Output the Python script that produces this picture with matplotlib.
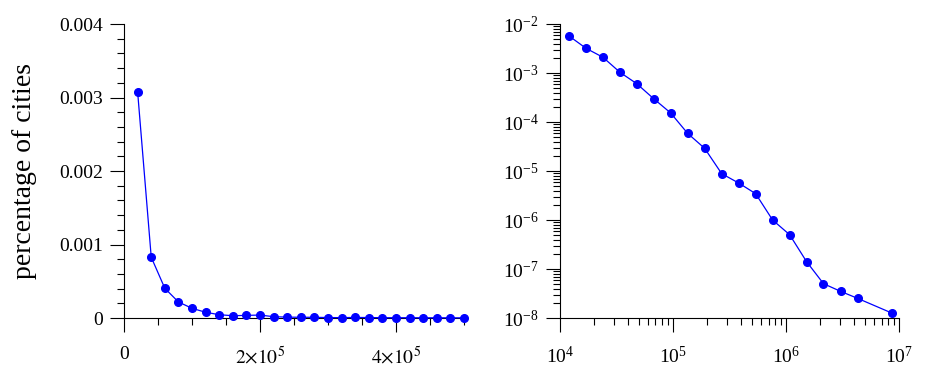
import numpy as np
import matplotlib
matplotlib.use('Agg')
import matplotlib.pyplot as plt
from matplotlib.ticker import FixedLocator, FixedFormatter, MultipleLocator, LogLocator, NullFormatter

plt.rcParams['font.family'] = ['Liberation Serif', 'DejaVu Serif']
plt.rcParams['mathtext.fontset'] = 'stix'

# linear histogram (left)
lin_size = [20000, 40000, 60000, 80000, 100000, 120000, 140000, 160000, 180000, 200000,
            220000, 240000, 260000, 280000, 300000, 320000, 340000, 360000, 380000, 400000,
            420000, 440000, 460000, 480000, 500000]
lin_frac = [0.003075, 0.000827, 0.000404, 0.000218, 0.000132, 0.000078, 0.000045, 0.000031,
            0.000036, 0.000040, 0.000018, 0.000012, 0.000010, 0.000010, 0.000006, 0.000005,
            0.000008, 0.000006, 0.000004, 0.000004, 0.000004, 0.000003, 0.000003, 0.000003,
            0.000002]

# log-binned histogram (right)
log_size = [12090, 17080, 24130, 34100, 47900, 67600, 95500, 134900, 190800, 269700,
            381000, 538000, 760000, 1074000, 1518000, 2140000, 3030000, 4280000, 8610000]
log_frac = [5.69e-3, 3.19e-3, 2.09e-3, 1.03e-3, 6.06e-4, 2.99e-4, 1.53e-4, 5.87e-5, 2.90e-5,
            8.83e-6, 5.69e-6, 3.45e-6, 1.0e-6, 5.02e-7, 1.41e-7, 5.02e-8, 3.50e-8, 2.52e-8,
            1.26e-8]

lin_yticks = [0, 0.001, 0.002, 0.003, 0.004]
lin_ylabels = ['0', '0.001', '0.002', '0.003', '0.004']
lin_xticks = [0, 2e5, 4e5]
lin_xlabels = ['0', r'$2{\times}10^{5}$', r'$4{\times}10^{5}$']

blue = '#0000ff'

fig = plt.figure(figsize=(9.27, 3.78), dpi=100)
ax1 = fig.add_axes([0.1338, 0.1587, 0.3668, 0.7778])
ax2 = fig.add_axes([0.6038, 0.1587, 0.3663, 0.7778])

for ax in (ax1, ax2):
    ax.spines['top'].set_visible(False)
    ax.spines['right'].set_visible(False)
    ax.tick_params(which='major', direction='out', length=10, width=0.8, labelsize=14, pad=5)
    ax.tick_params(which='minor', direction='out', length=5, width=0.8)
    ax.tick_params(axis='x', which='major', pad=10)

ax1.plot(lin_size, lin_frac, '-o', color=blue, lw=0.9, ms=5.5, clip_on=False, zorder=3)
ax1.set_xlim(0, 5e5)
ax1.set_ylim(0, 0.004)
ax1.xaxis.set_major_locator(FixedLocator(lin_xticks))
ax1.xaxis.set_major_formatter(FixedFormatter(lin_xlabels))
ax1.xaxis.set_minor_locator(MultipleLocator(5e4))
ax1.yaxis.set_major_locator(FixedLocator(lin_yticks))
ax1.yaxis.set_major_formatter(FixedFormatter(lin_ylabels))
ax1.yaxis.set_minor_locator(MultipleLocator(0.0002))
ax1.set_ylabel('percentage of cities', fontsize=20, labelpad=16)

ax2.plot(log_size, log_frac, '-o', color=blue, lw=0.9, ms=5.5, clip_on=False, zorder=3)
ax2.set_xscale('log')
ax2.set_yscale('log')
ax2.set_xlim(1e4, 1e7)
ax2.set_ylim(1e-8, 1e-2)
ax2.xaxis.set_major_locator(LogLocator(base=10, numticks=10))
ax2.xaxis.set_minor_locator(LogLocator(base=10, subs=np.arange(2, 10), numticks=20))
ax2.xaxis.set_minor_formatter(NullFormatter())
ax2.yaxis.set_major_locator(LogLocator(base=10, numticks=10))
ax2.yaxis.set_minor_locator(LogLocator(base=10, subs=np.arange(2, 10), numticks=20))
ax2.yaxis.set_minor_formatter(NullFormatter())

fig.savefig('out.png', dpi=100)
